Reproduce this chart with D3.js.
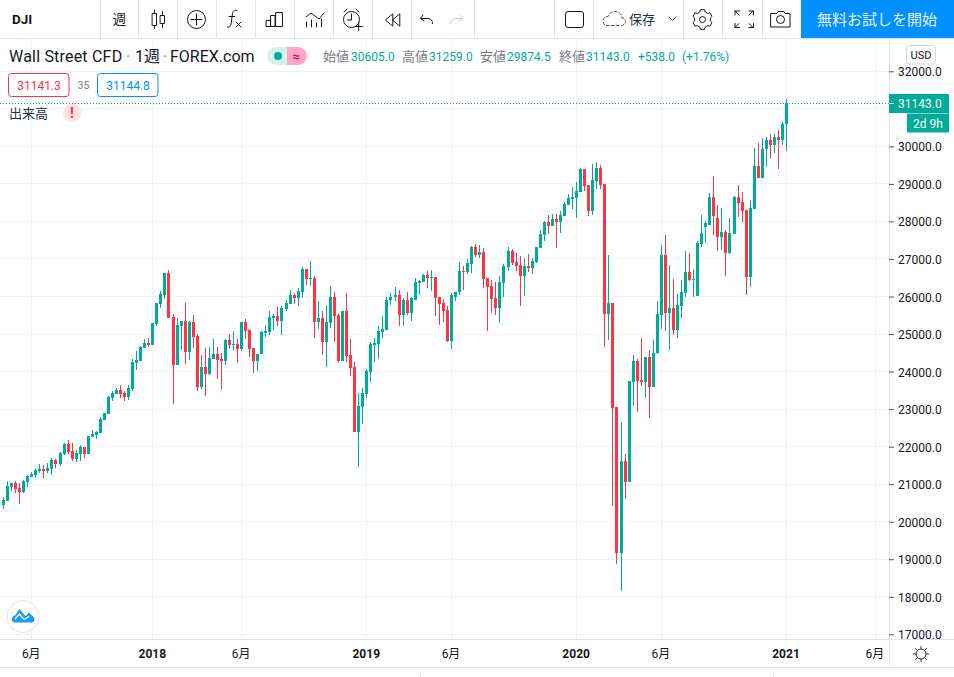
<!DOCTYPE html>
<html lang="ja">
<head>
<meta charset="utf-8">
<script src="https://cdn.jsdelivr.net/npm/d3@7"></script>
<style>
html,body{margin:0;padding:0;background:#fff;overflow:hidden}
svg{display:block}
text{font-family:Roboto,"Noto Sans CJK JP",sans-serif;fill:#131722}
.jp{font-family:"Noto Sans CJK JP",sans-serif}
</style>
</head>
<body>
<svg id="c" width="954" height="677" viewBox="0 0 954 677"></svg>
<script>
const opens=[20451,20557,20929,21035,20903,20796,21062,21195,21248,21354,
21407,21354,21407,21646,21540,21805,22071,21885,21673,21805,
21991,21805,22257,22310,22363,22708,22867,23292,23398,23505,
23425,23319,23548,24239,24292,24637,24770,24717,25274,25805,
26044,26628,25460,24186,25221,25354,24531,25327,24956,23602,
24133,23947,24345,24478,24345,24292,24849,24717,24743,24610,
25327,25115,24637,24292,24460,25018,25044,25416,25469,25336,
25655,25788,26027,25947,26133,26744,26478,26505,25310,25416,
24779,25283,26000,25496,24274,25602,24434,24115,22389,23053,
23398,23982,24699,24726,25044,25097,25894,25974,26053,25496,
25894,25549,25920,26372,26398,26584,26505,26531,25974,25814,
25629,24805,26000,26107,26690,26664,26876,27328,27115,27195,
26505,26292,25947,25682,26372,26797,27221,26929,26850,26552,
26818,26765,26925,27297,27643,27989,27883,28069,27989,28149,
28441,28601,28628,28787,29400,28973,28282,29080,29426,29000,
25541,25834,23060,19157,21623,21064,23725,24284,23779,23725,
24391,23592,24485,25496,27093,25549,25682,25097,25735,26081,
26640,26427,26002,27412,27864,27917,28663,28104,27598,27731,
27169,27674,28659,28526,28313,26530,28339,29484,29164,29936,
30176,30042,30255,30176,30605];
const highs=[20664,21088,21035,21088,21035,21115,21248,21327,21407,21540,
21513,21566,21699,21673,21858,22097,22177,22097,21911,22044,
21991,22283,22443,22416,22788,22894,23345,23478,23558,23637,
23478,23637,24345,24557,24690,24876,24902,25301,25832,26150,
26628,26708,25540,25433,25354,25832,25354,25513,25009,24451,
24637,24664,24876,24664,24504,24876,25009,25088,24876,25327,
25407,25141,24637,24478,25071,25230,25602,25522,25708,25735,
25894,26186,26080,26239,26797,26744,26956,26558,25867,25602,
25735,26292,26133,25522,25602,26080,24858,24248,23425,23558,
24062,24779,24885,25204,25469,25974,26106,26266,26186,25947,
26133,25974,26505,26451,26611,26690,26717,26531,25974,25921,
25735,26080,26133,26929,26823,27009,27354,27407,27381,27301,
26505,26451,26398,26558,26876,27328,27275,27168,27089,27031,
27138,27031,27324,27776,28016,28175,28202,28202,28282,28521,
28734,28920,29053,29426,29400,28973,29533,29586,29506,29000,
27111,25834,23060,22661,21809,23752,24444,24337,24896,24391,
24577,24843,25868,27359,27651,26826,26454,26055,26427,27199,
27172,26720,27492,28184,28024,28769,29221,28450,28370,27784,
28100,28685,28978,28792,28313,28579,29963,30096,30229,30255,
30335,30362,30442,30654,31259];
const lows=[20345,20557,20823,20770,20478,20770,20929,21195,21168,21301,
21168,21301,21248,21434,21487,21779,21805,21619,21593,21619,
21699,21805,22257,22204,22363,22708,22867,23212,23398,23292,
23212,23239,23495,24053,24292,24637,24664,24717,25221,25699,
25938,25434,23124,24186,24584,24212,24318,24637,23495,23548,
23336,23920,24345,23814,23522,24186,24610,24584,24239,24557,
24876,24398,23973,24026,24460,24912,24965,25097,25204,24965,
25602,25788,25788,25735,25947,26319,26292,24885,25124,24434,
24115,25150,24779,24248,24274,24248,23876,22389,21460,22602,
23292,23717,24248,24328,24885,25097,25761,25867,25204,25204,
25496,25336,25920,26053,26398,26239,26159,25469,25230,25310,
24779,24593,25867,26027,26186,26611,26637,27062,27036,26239,
25071,25549,25496,25283,25974,26690,26850,26690,25735,26020,
26659,26605,26898,27297,27484,27670,27883,27297,27696,28149,
28441,28335,28096,28787,28814,28149,28175,28867,28867,24663,
24849,20408,18882,18164,20612,21064,23087,22927,23619,23300,
22767,23592,24458,25123,25070,24565,24964,24884,25416,25975,
26401,25975,26002,27332,27438,27917,27651,27199,27252,26534,
27142,27674,28127,27993,26051,26264,28339,29164,29164,29457,
29697,29830,29404,30042,29874.5];
const closes=[20584,20956,21035,20876,20796,21088,21221,21274,21380,21407,
21354,21434,21646,21540,21832,22071,21858,21673,21832,21991,
21805,22283,22336,22389,22735,22894,23319,23425,23505,23398,
23319,23558,24265,24318,24664,24770,24717,25301,25832,26071,
26628,25434,24186,25248,25354,24531,25327,24929,23602,24133,
23947,24371,24478,24318,24292,24849,24717,24743,24610,25327,
25088,24610,24292,24478,25044,25071,25443,25469,25336,25682,
25814,26027,25947,26159,26744,26478,26505,25310,25416,24779,
25310,26000,25469,24274,25602,24407,24089,22389,23080,23425,
24009,24726,24752,25071,25124,25920,26000,26053,25496,25894,
25549,25947,26398,26425,26584,26505,26531,25947,25788,25602,
24805,26027,26133,26690,26664,26903,27328,27115,27195,26478,
26266,25921,25682,26398,26823,27221,26903,26823,26558,26818,
26765,26951,27324,27670,27989,27883,28069,27989,28175,28468,
28628,28654,28814,29400,28947,28282,29107,29426,28973,25541,
25834,23033,19157,21623,21064,23752,24284,23752,23725,24391,
23592,24497,25523,27093,25549,25682,25097,25762,26108,26640,
26427,26454,27438,27705,27971,28663,28157,27598,27731,27172,
27701,28659,28499,28286,26530,28366,29484,29164,29936,30176,
30042,30255,30176,30601,31143];
const priceTicks=[17000,18000,19000,20000,21000,22000,23000,24000,25000,26000,27000,28000,29000,30000,31000,32000];
const timeTickIndex=[7,37,59,90,111,142,163,194,216];
const timeTickLabels=["6月","2018","6月","2019","6月","2020","6月","2021","6月"];
const lastPrice=31143;
const legendItems=[["始値","30605.0",323,351],["高値","31259.0",402,429],["安値","29874.5",480,507],["終値","31143.0",559,586]];

const UP="#00ab9a",DOWN="#ff3341",GRID="#f0f1f5",BORDER="#e0e3eb",BTN="#0090ff",INK="#131722",MUTED="#787b86";
const svg=d3.select("#c");
const W=954,H=677,AX=889,TOP=39,BOT=639;
const x=d3.scaleLinear().domain([0,194]).range([3.5,786.5]);
const y=d3.scaleLinear().domain([17000,32000]).range([634.3,71.3]);
const data=d3.range(opens.length).map(i=>({i,o:opens[i],h:highs[i],l:lows[i],c:closes[i]}));

svg.append("rect").attr("width",W).attr("height",H).attr("fill","#fff");

// grid
const grid=svg.append("g");
grid.selectAll("rect.h").data(priceTicks).join("rect").attr("class","h")
 .attr("x",0).attr("width",AX).attr("y",d=>Math.floor(y(d))).attr("height",1).attr("fill",GRID);
grid.selectAll("rect.v").data(timeTickIndex).join("rect").attr("class","v")
 .attr("x",d=>Math.floor(x(d))).attr("width",1).attr("y",TOP).attr("height",BOT-TOP).attr("fill",GRID);

// candles
svg.append("clipPath").attr("id","pane").append("rect").attr("x",0).attr("y",TOP).attr("width",AX).attr("height",BOT-TOP);
const pane=svg.append("g").attr("clip-path","url(#pane)");
const col=d=>d.c>=d.o?UP:DOWN;
pane.selectAll("rect.w").data(data).join("rect").attr("class","w")
 .attr("x",d=>Math.floor(x(d.i))).attr("width",1)
 .attr("y",d=>Math.round(y(d.h))).attr("height",d=>Math.max(1,Math.round(y(d.l))-Math.round(y(d.h))))
 .attr("fill",col);
pane.selectAll("rect.b").data(data).join("rect").attr("class","b")
 .attr("x",d=>Math.floor(x(d.i))-1).attr("width",3)
 .attr("y",d=>Math.round(y(Math.max(d.o,d.c))))
 .attr("height",d=>Math.max(1,Math.round(y(Math.min(d.o,d.c)))-Math.round(y(Math.max(d.o,d.c)))))
 .attr("fill",col);

// last-price dotted line
svg.append("line").attr("x1",0).attr("x2",AX).attr("y1",Math.floor(y(lastPrice))+.5).attr("y2",Math.floor(y(lastPrice))+.5)
 .attr("stroke",UP).attr("stroke-width",1).attr("stroke-dasharray","1 2");

// axes frame
svg.append("rect").attr("x",AX).attr("y",TOP).attr("width",1).attr("height",667-TOP).attr("fill",BORDER);
svg.append("rect").attr("x",0).attr("y",BOT).attr("width",W).attr("height",1).attr("fill",BORDER);
svg.append("rect").attr("x",0).attr("y",667).attr("width",W).attr("height",1).attr("fill",BORDER);
svg.append("rect").attr("x",0).attr("y",38).attr("width",W).attr("height",1).attr("fill",BORDER);

// price axis
const yAxis=d3.axisRight(y).tickValues(priceTicks).tickSize(5).tickPadding(4).tickFormat(d3.format(".1f"));
const gy=svg.append("g").attr("transform",`translate(${AX},0)`).call(yAxis);
gy.select(".domain").remove();
gy.selectAll("line").attr("stroke",INK).attr("stroke-opacity",.75);
gy.selectAll("text").attr("font-size",12).attr("dy",".38em").style("fill",INK);
// the 31000 label sits behind the last-price and countdown tags, as in the original
gy.selectAll(".tick").filter(d=>d===31000).select("text").remove();

// time axis
const xAxis=d3.axisBottom(x).tickValues(timeTickIndex).tickSize(0).tickFormat((d,i)=>timeTickLabels[i]);
const gx=svg.append("g").attr("transform",`translate(0,${BOT})`).call(xAxis);
gx.select(".domain").remove();
gx.selectAll("text").attr("y",10).attr("dy",".71em").attr("dx",-1).attr("font-size",12)
 .attr("font-weight",(d,i)=>timeTickLabels[i]==="6月"?400:700).style("fill",INK);

// price & countdown tags
const py=Math.floor(y(lastPrice))+.5;
svg.append("rect").attr("x",AX).attr("y",94).attr("width",60).attr("height",19).attr("fill",UP);
svg.append("rect").attr("x",AX).attr("y",py-.5).attr("width",5).attr("height",1).attr("fill","#fff");
svg.append("text").attr("x",898).attr("y",108).attr("font-size",12).style("fill","#fff").text(d3.format(".1f")(lastPrice));
svg.append("rect").attr("x",907).attr("y",113.5).attr("width",42).attr("height",19).attr("fill",UP);
svg.append("text").attr("x",928).attr("y",127.5).attr("text-anchor","middle").attr("font-size",12).style("fill","#fff").text("2d 9h");

// USD
svg.append("rect").attr("x",906.5).attr("y",45.5).attr("width",29).attr("height",18.5).attr("rx",3).attr("fill","#fff").attr("stroke","#d1d4dc");
svg.append("text").attr("x",921).attr("y",59).attr("text-anchor","middle").attr("font-size",11).text("USD");

// title & legend
const t=svg.append("text").attr("y",61.5).attr("font-size",16);
t.append("tspan").attr("x",9).attr("letter-spacing",.2).text("Wall Street CFD");
t.append("tspan").attr("x",126).style("fill",MUTED).text("·");
t.append("tspan").attr("x",135).text("1週");
t.append("tspan").attr("x",163).style("fill",MUTED).text("·");
t.append("tspan").attr("x",170).text("FOREX.com");

svg.append("path").attr("d","M287,47H276a9,9 0 0 0 0,18H287Z").attr("fill","#d4f2ee");
svg.append("path").attr("d","M287,47H298a9,9 0 0 1 0,18H287Z").attr("fill","#ffa6c9");
svg.append("circle").attr("cx",278).attr("cy",56).attr("r",4).attr("fill",UP);
svg.append("text").attr("x",296).attr("y",60.5).attr("text-anchor","middle").attr("font-size",13).attr("font-weight",700).style("fill","#d5005a").text("≈");

legendItems.forEach(([k,v,kx,vx])=>{
 svg.append("text").attr("x",kx).attr("y",60.5).attr("font-size",13).attr("class","jp").style("fill",MUTED).text(k);
 svg.append("text").attr("x",vx).attr("y",60.5).attr("font-size",12).style("fill",UP).text(v);
});
svg.append("text").attr("x",638).attr("y",60.5).attr("font-size",12).style("fill",UP).text("+538.0");
svg.append("text").attr("x",682).attr("y",60.5).attr("font-size",12).style("fill",UP).text("(+1.76%)");

// bid / ask boxes
svg.append("rect").attr("x",8.5).attr("y",73.5).attr("width",60.5).attr("height",23).attr("rx",3).attr("fill","#fff").attr("stroke",DOWN);
svg.append("text").attr("x",39).attr("y",89.5).attr("text-anchor","middle").attr("font-size",12).style("fill",DOWN).text("31141.3");
svg.append("text").attr("x",83.5).attr("y",89).attr("text-anchor","middle").attr("font-size",10.5).style("fill",MUTED).text("35");
svg.append("rect").attr("x",97.5).attr("y",73.5).attr("width",60.5).attr("height",23).attr("rx",3).attr("fill","#fff").attr("stroke",BTN);
svg.append("text").attr("x",128).attr("y",89.5).attr("text-anchor","middle").attr("font-size",12).style("fill",BTN).text("31144.8");

// volume label
svg.append("text").attr("x",9).attr("y",117.5).attr("font-size",13).attr("class","jp").style("fill","#2a2e39").text("出来高");
svg.append("circle").attr("cx",72).attr("cy",113).attr("r",9).attr("fill","#fde0e0");
svg.append("text").attr("x",72).attr("y",118).attr("text-anchor","middle").attr("font-size",14).attr("font-weight",700).style("fill","#f7323f").text("!");

// toolbar
svg.append("rect").attr("x",0).attr("y",0).attr("width",W).attr("height",38).attr("fill","#fff");
svg.selectAll("rect.sep").data([100,138,177,216,255,294,333,372,411,474,554,593,683,722,762]).join("rect").attr("class","sep")
 .attr("x",d=>d).attr("y",0).attr("width",1).attr("height",38).attr("fill",BORDER);
svg.append("rect").attr("x",801).attr("y",0).attr("width",153).attr("height",38).attr("fill",BTN);
svg.append("text").attr("x",877).attr("y",24.5).attr("text-anchor","middle").attr("font-size",15).attr("class","jp").style("fill","#fff").attr("opacity",.92).text("無料お試しを開始");
svg.append("text").attr("x",12).attr("y",24).attr("font-size",13.5).attr("font-weight",700).text("DJI");
svg.append("text").attr("x",119.5).attr("y",24).attr("text-anchor","middle").attr("font-size",13.5).attr("class","jp").text("週");
svg.append("text").attr("x",629).attr("y",24).attr("font-size",13).attr("class","jp").style("fill","#2a2e39").text("保存");

const icon=(d,o={})=>svg.append("path").attr("d",d).attr("fill",o.fill||"none").attr("stroke",o.stroke||INK).attr("stroke-width",o.w||1).attr("stroke-dasharray",o.dash||null).attr("stroke-linecap","round").attr("stroke-linejoin","round");
// candles icon
icon("M152.5,13.5h4v12h-4ZM154.5,10v3.5M154.5,25.5v3M160.5,15.5h4v8h-4ZM162.5,11.5v4M162.5,23.5v4");
// plus circle
svg.append("circle").attr("cx",196.5).attr("cy",19.5).attr("r",9).attr("fill","none").attr("stroke",INK);
icon("M196.5,14v11M191,19.5h11");
// fx
icon("M237,10.5c-3,-1 -4,0.5 -4.5,3l-1.5,11c-0.4,2 -1.5,3 -3.5,2.5M229,16.5h6");
icon("M236,22l5,5M241,22l-5,5");
// bars
icon("M266.5,20.5h4v6h-4ZM271,15.5h4v11h-4ZM276,12.5h6.5v14h-6.5Z");
// indicators
icon("M306,17l5,-4 4,3 4,3 5,-6");
icon("M306.5,27v-5M311.5,27v-7M316.5,27v-4M321.5,27v-8");
// alarm
svg.append("circle").attr("cx",351.5).attr("cy",19.5).attr("r",8).attr("fill","none").attr("stroke",INK);
icon("M344,12l3,-3M356,9l3,3M351.5,14v6h-4M355,26.5h7.5M358.7,22.5v8");
// rewind
icon("M392.5,14l-7,6 7,6ZM399.5,14l-7,6 7,6Z");
// undo / redo
icon("M423,15l-2.5,3.5 3.5,2.5M421,18.5h7c3,0 4.5,2 4.5,5");
icon("M460,15l2.5,3.5 -3.5,2.5M462,18.5h-7c-3,0 -4.5,2 -4.5,5",{stroke:"#c9ccd3"});
// rectangle
svg.append("rect").attr("x",565.5).attr("y",11.5).attr("width",18).attr("height",16).attr("rx",2.5).attr("fill","none").attr("stroke",INK);
// cloud
icon("M606,25.5h15c3,0 4.5,-2 4.5,-4c0,-2 -1.5,-3.5 -3.5,-3.5c-0.5,-4 -3,-6.5 -7,-6.5c-3.5,0 -6,2 -7,5c-3,0 -5,2 -5,4.5c0,2.5 1.5,4.5 3.5,4.5Z",{dash:"3 2",stroke:"#50535e"});
icon("M669,17l3.5,3.5 3.5,-3.5",{stroke:"#50535e"});
// gear
const gear=(cx,cy,r1,r2,teeth,c)=>{
 const line=d3.lineRadial().curve(d3.curveLinearClosed);
 const pts=[];
 for(let k=0;k<teeth;k++){const a=2*Math.PI*k/teeth,s=Math.PI/teeth;
  pts.push([a-s*.4,r2],[a+s*.4,r2],[a+s*.65,r1],[a+s*1.35,r1]);}
 svg.append("path").attr("d",line(pts)).attr("transform",`translate(${cx},${cy})`).attr("fill","none").attr("stroke",c).attr("stroke-linejoin","round");
};
gear(702.5,19.5,8,10,6,INK);
svg.append("circle").attr("cx",702.5).attr("cy",19.5).attr("r",3).attr("fill","none").attr("stroke",INK);
// fullscreen
icon("M735,15v-4h4.5M749,11h4.5v4M735,23.5v4h4.5M749,27.5h4.5v-4M735,11l4,4M753,11l-4,4M735,27.5l4,-4M753,27.5l-4,-4");
// camera
icon("M771,13.5h6l1,-2h6l1,2h5v13.5h-19Z");
svg.append("circle").attr("cx",780.5).attr("cy",19.5).attr("r",4).attr("fill","none").attr("stroke",INK);

// sun icon
svg.append("circle").attr("cx",921).attr("cy",654).attr("r",5).attr("fill","none").attr("stroke","#2a2e39");
icon("M921,646.5v2M921,659.5v2M913.5,654h2M926.5,654h2M915.7,648.7l1.5,1.5M924.8,657.8l1.5,1.5M915.7,659.3l1.5,-1.5M924.8,650.2l1.5,-1.5",{stroke:"#2a2e39"});

// logo
svg.append("circle").attr("cx",23).attr("cy",616.5).attr("r",16).attr("fill","#fff").attr("stroke",BORDER);
svg.append("path").attr("d","M12,619c0,-2 1.5,-3.5 3,-3.5l4.5,-6.5 5,6 1.5,1 3,-3.5 4,4c1.5,1 1.5,3 1.5,3c0,2 -1.5,3 -3,3h-17c-2,0 -2.5,-2 -2.5,-3.5Z").attr("fill","#1a9cf0");
svg.append("path").attr("d","M15,619l4.5,-5 4.5,5.5 5,-3").attr("fill","none").attr("stroke","#fff").attr("stroke-width",1.2);

// page-edge specks below the time axis
svg.selectAll("rect.speck").data([420,773]).join("rect").attr("class","speck").attr("x",d=>d).attr("y",675).attr("width",1).attr("height",2).attr("fill","#d8dbe3");
</script>
</body>
</html>
